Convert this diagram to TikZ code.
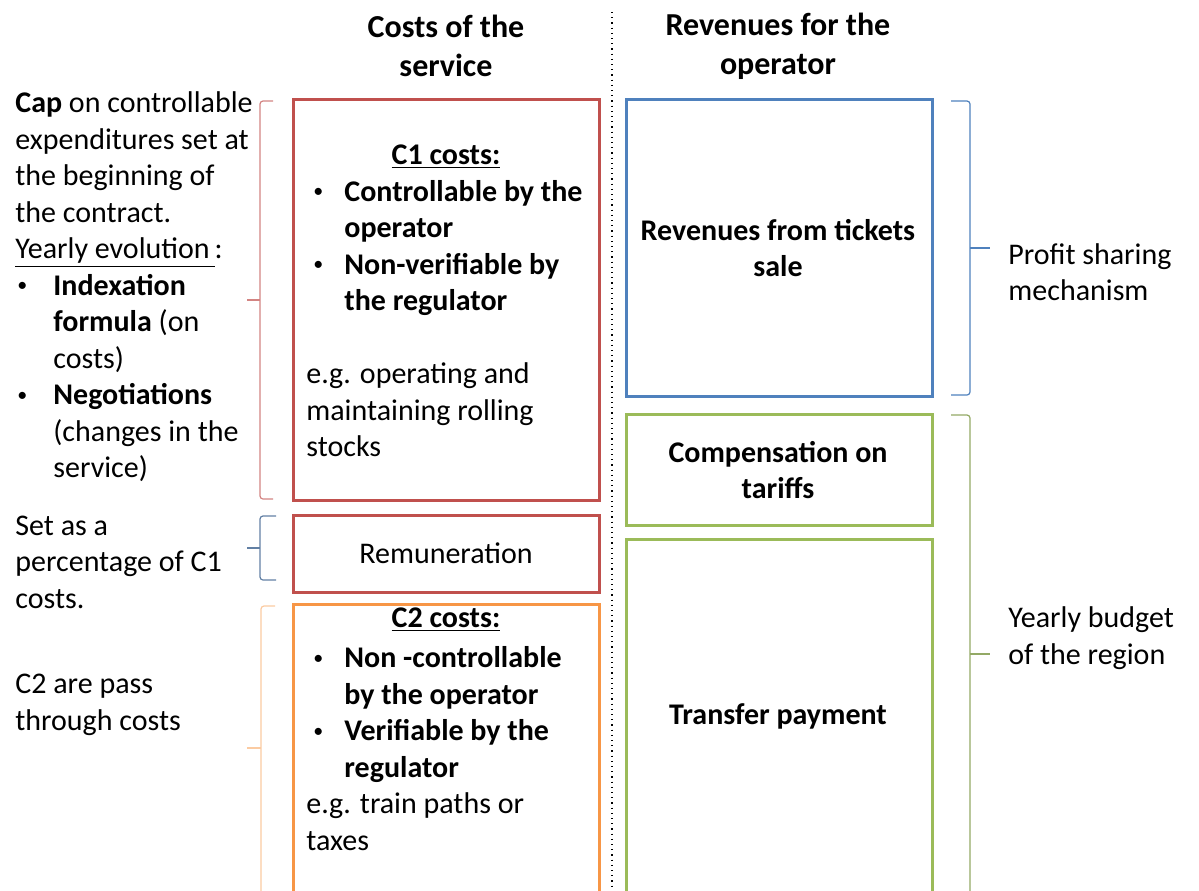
\documentclass[tikz,border=0pt]{standalone}
\usepackage{fontspec}
\setmainfont{Carlito}
\usetikzlibrary{positioning}

\definecolor{costred}{RGB}{192,80,77}
\definecolor{revblue}{RGB}{79,129,189}
\definecolor{budgetgreen}{RGB}{155,187,89}
\definecolor{passorange}{RGB}{247,150,70}

% one reference pixel
\def\px{0.5pt}
% bullet and hanging indent for the lists
\newcommand{\bul}[1][3.5pt]{\hspace*{#1}\makebox[\dimexpr19pt-#1\relax][l]{\raisebox{0.25ex}{\fontsize{10pt}{10pt}\selectfont\textbullet}}}
\newcommand{\hang}{\hspace*{19pt}}

\begin{document}
\begin{tikzpicture}[x=0.5pt, y=-0.5pt,
  txt/.style={font=\fontsize{15pt}{18.25pt}\selectfont, inner sep=0pt, align=left},
  bold/.style={txt, font=\fontsize{15pt}{18.25pt}\selectfont\bfseries, align=center},
  head/.style={font=\fontsize{16pt}{19.5pt}\selectfont\bfseries, inner sep=0pt, align=center},
  frame/.style={draw=#1, line width=1.5pt, inner sep=0pt, outer sep=0pt, minimum width=306*\px},
  brace/.style={draw=#1, line width=0.6pt, rounded corners=1.5pt}]
\useasboundingbox (0,0) rectangle (1199,890);
\clip (0,0) rectangle (1199,890);

% Column titles and divider
\node[head] (costhead) at (446,46) {Costs of the\\service};
\node[head] (revhead) at (778,46) {Revenues for the\\operator};
\draw[dotted, line width=0.6pt] (612,12) -- (612,890);

% Cost side boxes
\node[frame=costred, minimum height=401*\px] (c1box) at (446,299.5) {};
\node[frame=costred, minimum height=77*\px, below=7.5pt of c1box] (rembox) {};
\node[frame=passorange, minimum height=290*\px, below=6pt of rembox] (c2box) {};

% Revenue side boxes
\node[frame=revblue, minimum height=297*\px] (ticketbox) at (779,247.5) {};
\node[frame=budgetgreen, minimum height=111*\px, below=9pt of ticketbox] (compbox) {};
\node[frame=budgetgreen, minimum height=355*\px, below=7pt of compbox] (transferbox) {};

% Box contents
\node[bold] (c1head) at (446,157) {\underline{C1 costs:}};
\node[txt, anchor=west] (c1txt) at (306,318.5) {%
  \bul\textbf{Controllable by the}\\
  \hang\textbf{operator}\\
  \bul\textbf{Non-verifiable by}\\
  \hang\textbf{the regulator}\\
  \mbox{}\\
  e.g. operating and\\
  maintaining rolling\\
  stocks};
\node[txt] (remtxt) at (rembox) {Remuneration};
\node[bold] (c2head) at (446,620) {\underline{C2 costs:}};
\node[txt, anchor=west] (c2txt) at (306,748.5) {%
  \bul\textbf{Non -controllable}\\
  \hang\textbf{by the operator}\\
  \bul\textbf{Verifiable by the}\\
  \hang\textbf{regulator}\\
  e.g. train paths or\\
  taxes};
\node[bold] (tickettxt) at (778,248) {Revenues from tickets\\sale};
\node[bold] (comptxt) at (778,470) {Compensation on\\tariffs};
\node[bold] (transfertxt) at (778,716) {Transfer payment};

% Left notes
\node[txt, anchor=west] (capnote) at (15,287) {%
  \textbf{Cap} on controllable\\
  expenditures set at\\
  the beginning of\\
  the contract.\\
  \underline{Yearly evolution\,}:\\
  \bul[1pt]\textbf{Indexation}\\
  \hang\textbf{formula} (on\\
  \hang costs)\\
  \bul[1pt]\textbf{Negotiations}\\
  \hang(changes in the\\
  \hang service)};
\node[txt, anchor=west] (remnote) at (15,562) {Set as a\\percentage of C1\\costs.};
\node[txt, anchor=west] (c2note) at (15,705) {C2 are pass\\through costs};

% Right notes
\node[txt, anchor=west] (profitnote) at (1008,272) {Profit sharing\\mechanism};
\node[txt, anchor=west] (budgetnote) at (1008,638) {Yearly budget\\of the region};

% Left braces
\draw[brace=costred!70] (273,101) -- (260,101) -- (260,499) -- (273,499);
\draw[brace=costred!70] (260,300) -- (247,300);
\draw[brace=revblue!60!gray] (276,516) -- (260,516) -- (260,580) -- (276,580);
\draw[brace=revblue!60!gray] (260,548) -- (247,548);
\draw[brace=passorange!50] (275,606) -- (261,606) -- (261,895);
\draw[brace=passorange!50] (261,748) -- (247,748);

% Right braces
\draw[brace=revblue] (951,101) -- (970,101) -- (970,395) -- (951,395);
\draw[brace=revblue] (970,248) -- (990,248);
\draw[brace=budgetgreen!70!gray] (951,415) -- (970,415) -- (970,895);
\draw[brace=budgetgreen!70!gray] (970,654) -- (990,654);
\end{tikzpicture}
\end{document}
